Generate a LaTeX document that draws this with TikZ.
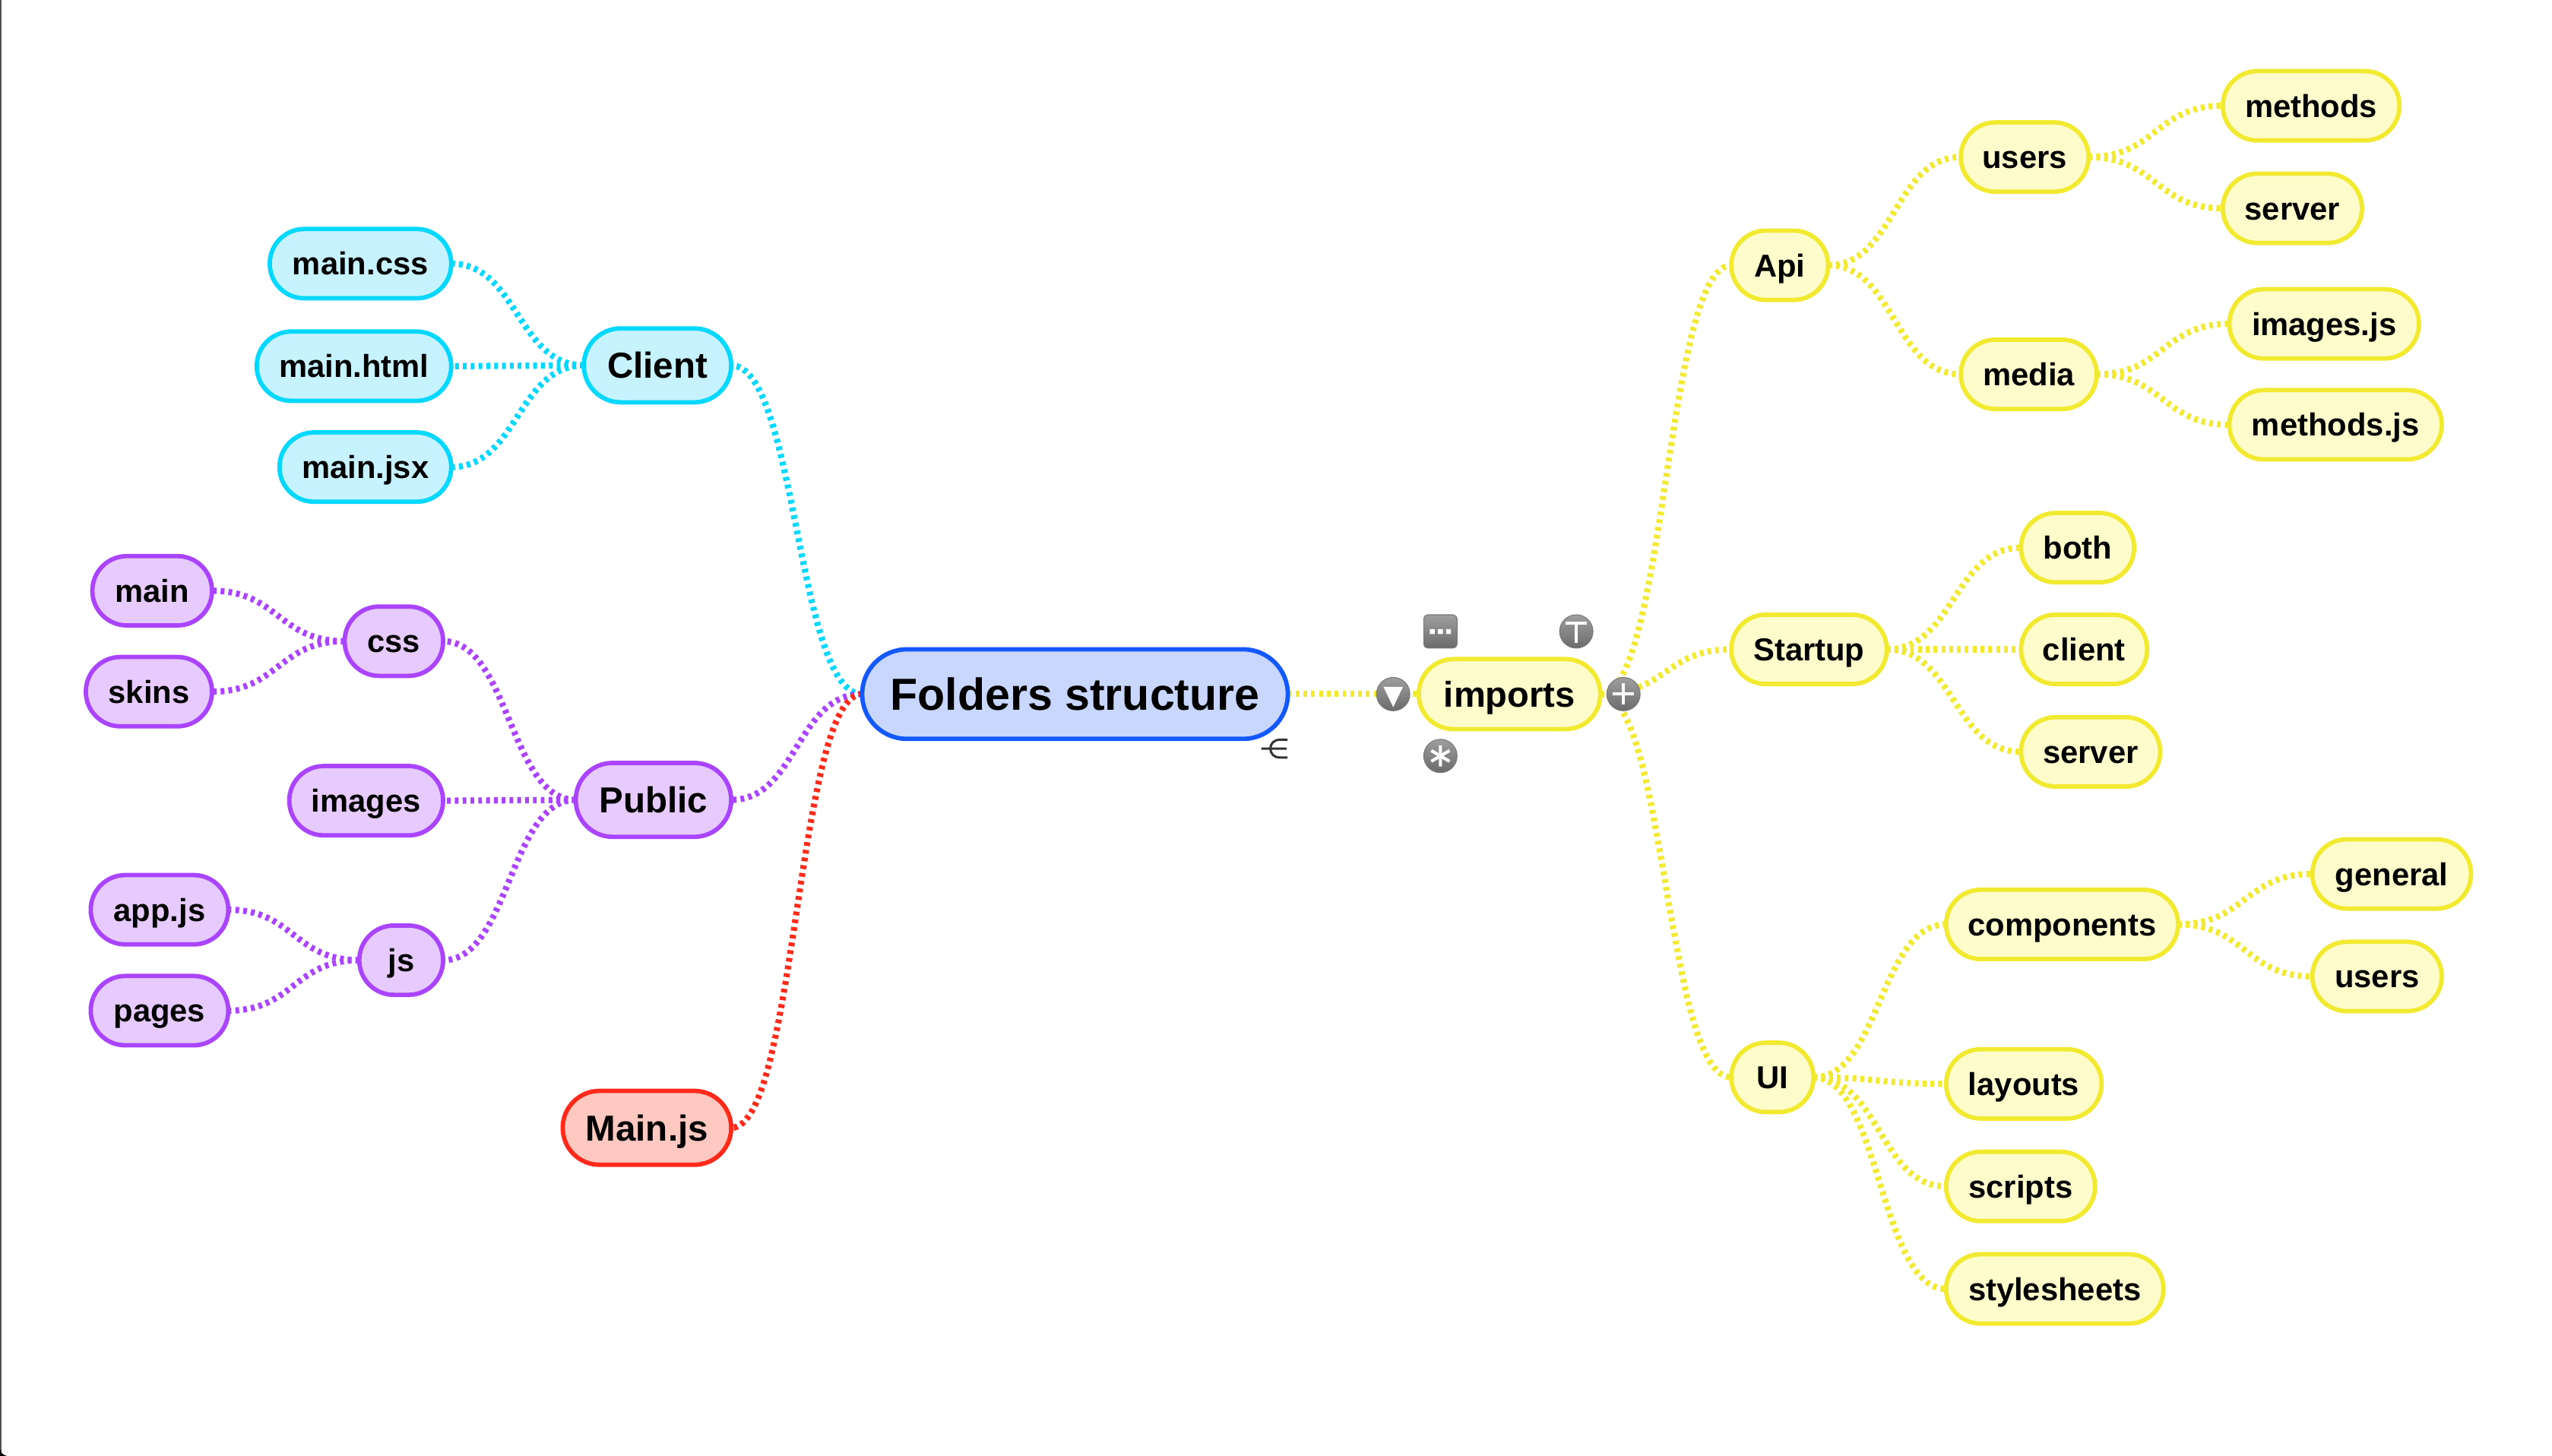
\documentclass[tikz,border=0pt]{standalone}
\usepackage{fontspec}
\setmainfont{Liberation Sans}
\usetikzlibrary{calc,backgrounds}
\definecolor{cyS}{HTML}{00D8FF}\definecolor{cyF}{HTML}{C6F3FF}
\definecolor{puS}{HTML}{AA44FF}\definecolor{puF}{HTML}{E7CBFF}
\definecolor{reS}{HTML}{FF2A1A}\definecolor{reF}{HTML}{FFC8C0}
\definecolor{yeS}{HTML}{F2EA30}\definecolor{yeF}{HTML}{FEFCCB}
\definecolor{blS}{HTML}{1458FF}\definecolor{blF}{HTML}{C9D7FF}
\tikzset{
  mm/.style={rectangle,inner sep=0pt,outer sep=0pt,line width=2.7pt,align=center,font=\bfseries},
  leafn/.style={mm,minimum height=42.6pt,rounded corners=21.2pt,font=\fontsize{19.5}{20}\selectfont\bfseries,text height=14pt,text depth=0pt},
  majn/.style={mm,minimum height=45.4pt,rounded corners=22.6pt,font=\fontsize{22.2}{24}\selectfont\bfseries,text height=15.8pt,text depth=0pt},
  rootn/.style={mm,minimum height=55pt,rounded corners=27.4pt,font=\fontsize{27.6}{30}\selectfont\bfseries,text height=19.8pt,text depth=0pt},
  cyann/.style={draw=cyS,fill=cyF},
  purn/.style={draw=puS,fill=puF},
  redn/.style={draw=reS,fill=reF},
  yeln/.style={draw=yeS,fill=yeF},
  bluen/.style={draw=blS,fill=blF},
  lnk/.style={line width=3.8pt,dash pattern=on 2.3pt off 2.5pt},
  icon/.style={inner sep=0pt,minimum size=20.5pt,top color=black!38,bottom color=black!58,draw=black!52,line width=.5pt},
  glyph/.style={white,line width=1.9pt}
}
\newcommand{\mn}[6]{% style, name, x1, x2, cy, text
  \pgfmathsetmacro{\cxx}{(#3+#4)/2}
  \pgfmathsetmacro{\wid}{#4-#3-1.5}
  \node[#1,minimum width=\wid pt] (#2) at (\cxx,#5) {#6};
}
\newcommand{\lk}[3]{% colour, from anchor, to anchor
  \draw[lnk,#1] let \p1=(#2),\p2=(#3) in (\p1) .. controls (\x1/2+\x2/2,\y1) and (\x1/2+\x2/2,\y2) .. (\p2);
}
\begin{document}
\begin{tikzpicture}[x=1pt,y=-1pt]
\useasboundingbox (0,0) rectangle (1568,894.66);
\draw[black!68,line width=2pt] (0,0) -- (0,894.66);
\fill[black] (0,890.4) .. controls (.6,892.8) and (2,894.2) .. (4.4,894.66) -- (0,894.66) -- cycle;
% nodes
\mn{rootn,bluen}{root}{529}{792}{426.5}{Folders structure}
\mn{majn,cyann}{client}{358}{450}{224.5}{Client}
\mn{leafn,cyann}{maincss}{165}{278}{162}{main.css}
\mn{leafn,cyann}{mainhtml}{157}{278}{225}{main.html}
\mn{leafn,cyann}{mainjsx}{171}{278}{287}{main.jsx}
\mn{majn,purn}{public}{353}{450}{491.5}{Public}
\mn{leafn,purn}{css}{211}{273}{394}{css}
\mn{leafn,purn}{mainp}{56}{131}{363}{main}
\mn{leafn,purn}{skins}{52}{131}{425}{skins}
\mn{leafn,purn}{images}{177}{273}{492}{images}
\mn{leafn,purn}{js}{220}{273}{590}{js}
\mn{leafn,purn}{appjs}{55}{141}{559}{app.js}
\mn{leafn,purn}{pages}{55}{141}{621}{pages}
\mn{majn,redn}{mainjs}{345}{450}{693}{Main.js}
\mn{leafn,yeln,minimum height=43pt,font=\fontsize{22}{24}\selectfont\bfseries,text height=15.8pt}{imports}{871}{984}{426.5}{imports}
\mn{leafn,yeln}{api}{1063}{1124}{163}{Api}
\mn{leafn,yeln}{users}{1204}{1284}{96.5}{users}
\mn{leafn,yeln}{methods}{1365}{1475}{65}{methods}
\mn{leafn,yeln}{serverA}{1365}{1452}{128}{server}
\mn{leafn,yeln}{media}{1204}{1289}{230}{media}
\mn{leafn,yeln}{imagesjs}{1369}{1487}{199}{images.js}
\mn{leafn,yeln}{methodsjs}{1369}{1501}{261}{methods.js}
\mn{leafn,yeln}{startup}{1063}{1160}{399}{Startup}
\mn{leafn,yeln}{both}{1241}{1312}{336.5}{both}
\mn{leafn,yeln}{clientB}{1241}{1320}{399}{client}
\mn{leafn,yeln}{serverB}{1241}{1328}{462}{server}
\mn{leafn,yeln}{ui}{1063}{1115}{662}{UI}
\mn{leafn,yeln}{components}{1195}{1339}{568}{components}
\mn{leafn,yeln}{general}{1420}{1519}{537}{general}
\mn{leafn,yeln}{usersB}{1420}{1501}{600}{users}
\mn{leafn,yeln}{layouts}{1195}{1292}{666}{layouts}
\mn{leafn,yeln}{scripts}{1195}{1288}{729}{scripts}
\mn{leafn,yeln}{stylesheets}{1195}{1330}{792}{stylesheets}
% connectors
\begin{pgfonlayer}{background}
\lk{cyS}{root.west}{client.east}
\lk{cyS}{client.west}{maincss.east}
\lk{cyS}{client.west}{mainhtml.east}
\lk{cyS}{client.west}{mainjsx.east}
\lk{puS}{root.west}{public.east}
\lk{puS}{public.west}{css.east}
\lk{puS}{public.west}{images.east}
\lk{puS}{public.west}{js.east}
\lk{puS}{css.west}{mainp.east}
\lk{puS}{css.west}{skins.east}
\lk{puS}{js.west}{appjs.east}
\lk{puS}{js.west}{pages.east}
\lk{reS}{root.west}{mainjs.east}
\lk{yeS}{root.east}{imports.west}
\lk{yeS}{imports.east}{api.west}
\lk{yeS}{imports.east}{startup.west}
\lk{yeS}{imports.east}{ui.west}
\lk{yeS}{api.east}{users.west}
\lk{yeS}{api.east}{media.west}
\lk{yeS}{users.east}{methods.west}
\lk{yeS}{users.east}{serverA.west}
\lk{yeS}{media.east}{imagesjs.west}
\lk{yeS}{media.east}{methodsjs.west}
\lk{yeS}{startup.east}{both.west}
\lk{yeS}{startup.east}{clientB.west}
\lk{yeS}{startup.east}{serverB.west}
\lk{yeS}{ui.east}{components.west}
\lk{yeS}{ui.east}{layouts.west}
\lk{yeS}{ui.east}{scripts.west}
\lk{yeS}{ui.east}{stylesheets.west}
\lk{yeS}{components.east}{general.west}
\lk{yeS}{components.east}{usersB.west}
\end{pgfonlayer}
% icons
\node[icon,circle] (iconDown) at (856,426.5) {};
\fill[white] (850,422) -- (862,422) -- (856,434.5) -- cycle;
\node[icon,circle] (iconPlus) at (997.5,426.5) {};
\draw[glyph] (991,426.5) -- (1004,426.5) (997.5,420) -- (997.5,433);
\node[icon,circle] (iconT) at (968.5,388) {};
\draw[glyph] (962,382.8) -- (975,382.8) (968.5,382.8) -- (968.5,395);
\node[icon,rectangle,rounded corners=2.5pt] (iconDots) at (885,388) {};
\fill[white] (878.5,386.6) rectangle +(3,3) (883.5,386.6) rectangle +(3,3) (888.5,386.6) rectangle +(3,3);
\node[icon,circle] (iconStar) at (885,464.5) {};
\draw[glyph] (885,458) -- (885,471) (879.4,461.2) -- (890.6,467.8) (879.4,467.8) -- (890.6,461.2);
% small fork mark
\draw[black!80,line width=1.4pt] (775,460) -- (790.5,460) (791,454.5) -- (786,454.5) arc[start angle=90,end angle=270,radius=5.5pt] -- (791,465.5);
\end{tikzpicture}
\end{document}
